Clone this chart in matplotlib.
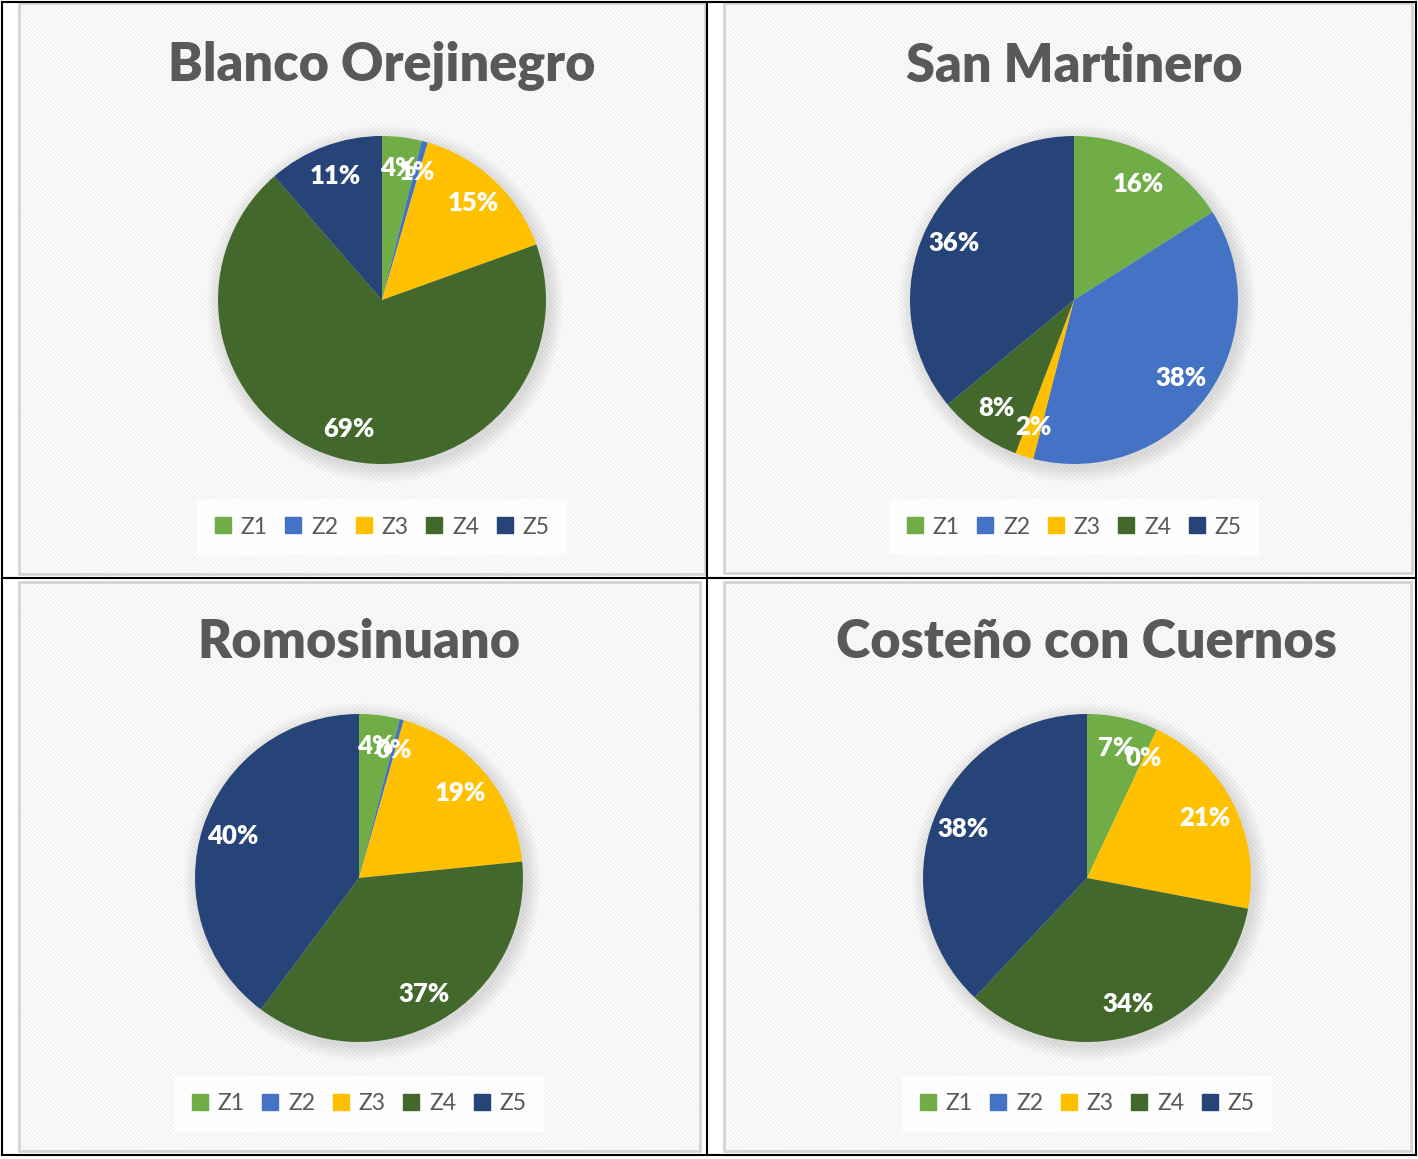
import matplotlib.pyplot as plt
from matplotlib.patches import Rectangle, Circle
from matplotlib.lines import Line2D

W, H = 1418, 1159

zones = ["Z1", "Z2", "Z3", "Z4", "Z5"]
colors = ["#70AD47", "#4472C4", "#FFC000", "#43682B", "#264478"]

titles = ["Blanco Orejinegro", "San Martinero", "Romosinuano", "Costeño con Cuernos"]
blanco = [3.9, 0.6, 15.0, 69.1, 11.4]
san_martinero = [16.0, 38.0, 1.8, 8.2, 36.0]
romosinuano = [4.0, 0.4, 19.0, 36.8, 39.8]
costeno = [7.0, 0.0, 21.0, 34.0, 38.0]
series = [blanco, san_martinero, romosinuano, costeno]

# panel boxes (left, top, right, bottom) in pixels, pie centre, title and legend rows
panels = [(19, 3, 705, 574), (724, 3, 1412, 573), (19, 582, 700, 1151), (724, 582, 1411, 1151)]
centres = [(382, 300), (1074, 300), (359, 878), (1087, 878)]
title_y = [66, 66, 642, 642]
legend_y = [527, 527, 1104, 1104]
radius = 164

plt.rcParams['font.family'] = ['Lato', 'DejaVu Sans']
plt.rcParams['hatch.linewidth'] = 0.6

fig = plt.figure(figsize=(W / 100, H / 100), dpi=100)
fig.patch.set_facecolor('white')

for i, (x0, y0, x1, y1) in enumerate(panels):
    pw, ph = x1 - x0, y1 - y0
    ax = fig.add_axes([x0 / W, 1 - y1 / H, pw / W, ph / H])
    ax.set_axis_off()
    ax.add_patch(Rectangle((0, 0), 1, 1, transform=ax.transAxes, facecolor='#fcfcfc',
                           edgecolor='#ebebeb', hatch='\\\\\\\\\\\\\\\\', lw=0, zorder=0))
    ax.add_patch(Rectangle((0, 0), 1, 1, transform=ax.transAxes, facecolor='none',
                           edgecolor='#d4d4d4', lw=2, zorder=1, clip_on=False))

    cx, cy = centres[i][0] - x0, ph - (centres[i][1] - y0)
    # soft shadow
    for k in range(10):
        ax.add_patch(Circle((cx + 3, cy - 4), radius + 1 + k * 1.5, color='#808080',
                            alpha=0.025, lw=0, zorder=1.5))
    vals = series[i]
    wedges, texts, autotexts = ax.pie(
        vals, colors=colors, startangle=90, counterclock=False, center=(cx, cy),
        radius=radius, frame=True, autopct=lambda p: f"{round(p)}%", pctdistance=0.81,
        wedgeprops=dict(lw=0, zorder=2),
        textprops=dict(color='white', fontsize=18.5, fontweight='heavy'))
    for t in autotexts:
        t.set_zorder(5)
    ax.set_xlim(0, pw)
    ax.set_ylim(0, ph)
    ax.set_aspect('auto')
    ax.set_axis_off()

    ax.text(cx, ph - (title_y[i] - y0), titles[i], ha='center', va='center',
            fontsize=37.5, fontweight='heavy', color='#595959')

    handles = [Line2D([], [], marker='s', ls='none', markersize=11, color=c) for c in colors]
    ax.legend(handles, zones, ncol=5, loc='center',
              bbox_to_anchor=(cx / pw, (ph - (legend_y[i] - y0)) / ph),
              frameon=True, fancybox=False, framealpha=0.85, edgecolor='none',
              facecolor='white', fontsize=16.5, labelcolor='#595959',
              handlelength=0.75, handletextpad=0.4, columnspacing=0.75,
              borderpad=0.75, borderaxespad=0)

# outer frame and dividers
for xs, ys in [([1.5, 1415.5], [1.5, 1.5]), ([1.5, 1415.5], [1155, 1155]),
               ([1.5, 1.5], [1.5, 1155]), ([1415.5, 1415.5], [1.5, 1155]),
               ([707, 707], [1.5, 1155]), ([1.5, 1415.5], [578, 578])]:
    fig.add_artist(Line2D([x / W for x in xs], [1 - y / H for y in ys],
                          transform=fig.transFigure, color='black', lw=1.5))

fig.savefig('out.png', dpi=100)
